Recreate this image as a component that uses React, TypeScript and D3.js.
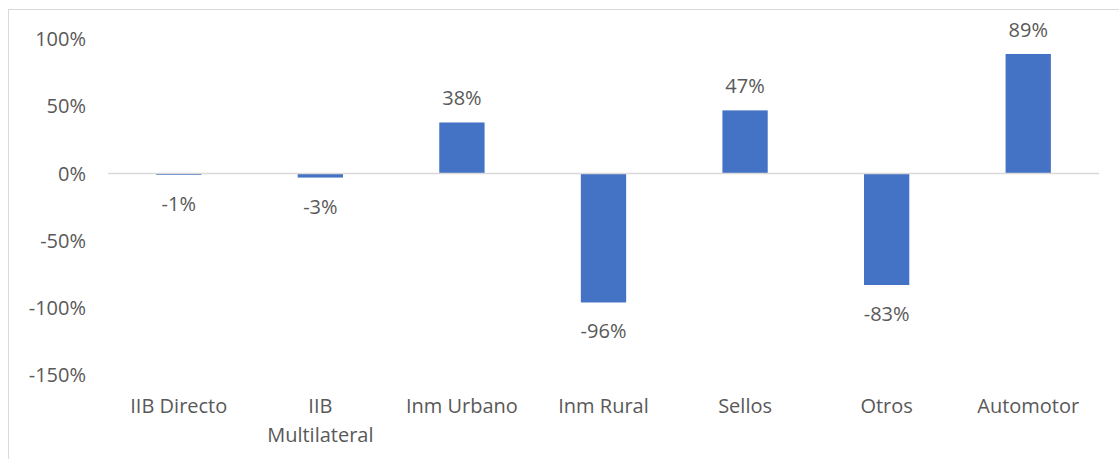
import React from "react";
import * as d3 from "d3";

const categories = ["IIB Directo", "IIB Multilateral", "Inm Urbano", "Inm Rural", "Sellos", "Otros", "Automotor"];
const values = [-1, -3, 38, -96, 47, -83, 89];
const yTicks = [100, 50, 0, -50, -100, -150];

export default function App() {
  const W = 1119, H = 459;
  const left = 108, right = 1099;
  const y = d3.scaleLinear().domain([-150, 100]).range([375, 39.2]);
  const x = d3.scaleBand<string>().domain(categories).range([left, right]).paddingInner(0.68).paddingOuter(0.34);
  const font = "'Open Sans', Calibri, sans-serif";
  const color = "#595959";
  const fs = 20;
  return (
    <svg width={W} height={H} style={{ position: "absolute", left: 0, top: 0 }}>
      <rect x={0} y={0} width={W} height={H} fill="#fff" />
      <rect x={8.5} y={9.5} width={W + 20} height={H + 20} fill="none" stroke="#d9d9d9" strokeWidth={1} />
      {yTicks.map((t) => (
        <text key={t} x={86} y={y(t)} dy="0.35em" textAnchor="end" fontFamily={font} fontSize={fs} fill={color}>
          {t}%
        </text>
      ))}
      {categories.map((c, i) => {
        const v = values[i];
        const x0 = x(c)!;
        const y0 = y(Math.max(0, v));
        const y1 = y(Math.min(0, v));
        return (
          <g key={c}>
            <rect x={x0} y={y0} width={x.bandwidth()} height={Math.max(1, y1 - y0)} fill="#4472c4" />
            <text
              x={x0 + x.bandwidth() / 2}
              y={v >= 0 ? y0 - 24 : y1 + 29}
              dy="0.35em"
              textAnchor="middle"
              fontFamily={font}
              fontSize={fs}
              fill={color}
            >
              {v}%
            </text>
          </g>
        );
      })}
      <line x1={left} x2={right} y1={y(0)} y2={y(0)} stroke="#d9d9d9" strokeWidth={1.5} />
      {categories.map((c) => {
        const cx = x(c)! + x.bandwidth() / 2;
        const lines = c === "IIB Multilateral" ? ["IIB", "Multilateral"] : [c];
        return (
          <text key={c} textAnchor="middle" fontFamily={font} fontSize={fs} fill={color}>
            {lines.map((l, j) => (
              <tspan key={j} x={cx} y={406 + j * 29} dy="0.35em">
                {l}
              </tspan>
            ))}
          </text>
        );
      })}
    </svg>
  );
}
